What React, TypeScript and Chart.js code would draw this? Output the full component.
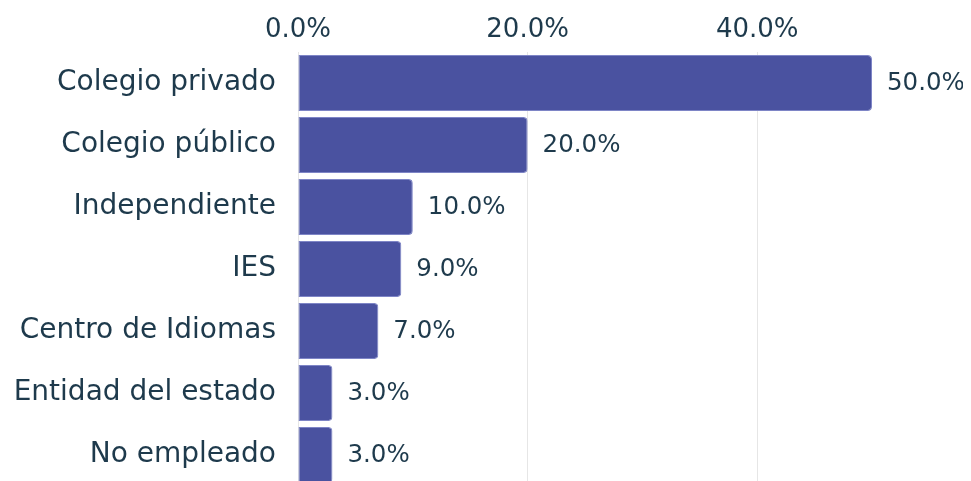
import React, { useEffect, useRef } from "react";
import { Chart, registerables } from "chart.js";

Chart.register(...registerables);

const categories = [
  "Colegio privado",
  "Colegio público",
  "Independiente",
  "IES",
  "Centro de Idiomas",
  "Entidad del estado",
  "No empleado",
];
const values = [50, 20, 10, 9, 7, 3, 3];
const tickValues = [0, 20, 40];

const FONT = "'DejaVu Sans', sans-serif";
const TEXT = "#1e3a4c";

const valueLabels = {
  id: "valueLabels",
  afterDatasetsDraw(chart: any) {
    const ctx = chart.ctx;
    const meta = chart.getDatasetMeta(0);
    ctx.save();
    ctx.font = `24.5px ${FONT}`;
    ctx.fillStyle = TEXT;
    ctx.textAlign = "left";
    ctx.textBaseline = "middle";
    meta.data.forEach((bar: any, i: number) => {
      ctx.fillText(values[i].toFixed(1) + "%", bar.x + 15, bar.y + 1);
    });
    ctx.restore();
  },
};

export default function App() {
  const ref = useRef<HTMLCanvasElement>(null);
  useEffect(() => {
    document.body.style.overflow = "hidden";
    const chart = new Chart(ref.current!, {
      type: "bar",
      data: {
        labels: categories,
        datasets: [
          {
            data: values,
            backgroundColor: "#4a52a0",
            borderColor: "#7e85c6",
            borderWidth: 1,
            borderRadius: { topLeft: 0, bottomLeft: 0, topRight: 4, bottomRight: 4 },
            borderSkipped: false,
            barPercentage: 0.9,
            categoryPercentage: 1,
          },
        ],
      },
      options: {
        indexAxis: "y",
        responsive: false,
        animation: false,
        layout: { padding: { left: 0, right: 99, top: 0, bottom: 0 } },
        plugins: { legend: { display: false }, tooltip: { enabled: false } },
        scales: {
          x: {
            position: "top",
            min: 0,
            max: 50,
            afterBuildTicks: (scale: any) => {
              scale.ticks = tickValues.map((v) => ({ value: v }));
            },
            afterFit: (scale: any) => {
              scale.height = 44;
              scale.paddingLeft = 0;
              scale.paddingRight = 0;
            },
            grid: { color: "#e6e6e6", drawTicks: false },
            border: { display: false },
            ticks: {
              padding: 6,
              color: TEXT,
              font: { family: FONT, size: 26 },
              callback: (v: any) => Number(v).toFixed(1) + "%",
            },
          },
          y: {
            afterFit: (scale: any) => {
              scale.width = 290;
              scale.paddingTop = 0;
              scale.paddingBottom = 0;
            },
            grid: { display: false, drawTicks: false },
            border: { display: false },
            ticks: {
              padding: 22,
              color: TEXT,
              font: { family: FONT, size: 28 },
            },
          },
        },
      },
      plugins: [valueLabels],
    });
    return () => chart.destroy();
  }, []);
  return (
    <div style={{ width: 963, height: 473, overflow: "hidden" }}>
      <canvas ref={ref} width={963} height={478} style={{ display: "block" }} />
    </div>
  );
}
